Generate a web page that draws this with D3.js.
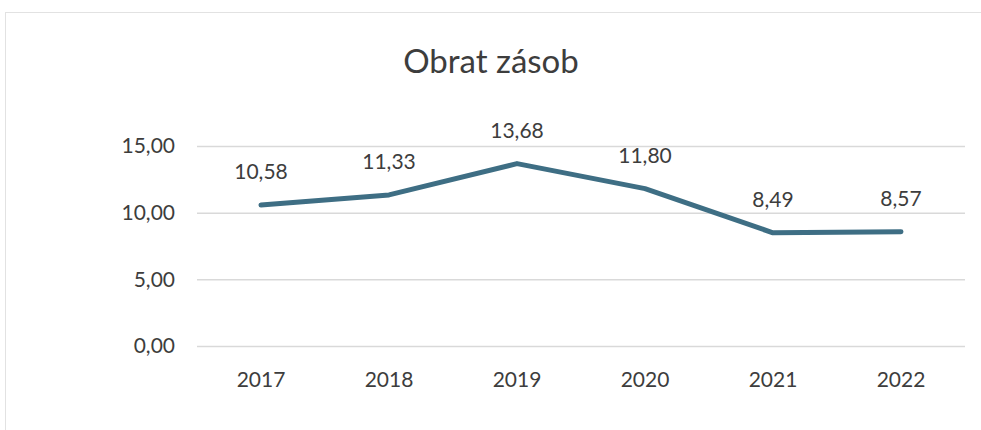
<!DOCTYPE html>
<html>
<head>
<meta charset="utf-8">
<script src="https://cdn.jsdelivr.net/npm/d3@7"></script>
<style>
  body { margin: 0; background: #fff; }
  text { font-family: Lato, "Open Sans", sans-serif; fill: #3d3d3d; }
</style>
</head>
<body>
<div id="chart"></div>
<script>
    var years = ["2017", "2018", "2019", "2020", "2021", "2022"];
    var values = [10.58, 11.33, 13.68, 11.80, 8.49, 8.57];
    var yTicks = [0, 5, 10, 15];

    var W = 981, H = 430;
    var margin = { top: 146, right: 16, bottom: 84, left: 197 },
        width = W - margin.left - margin.right,
        height = H - margin.top - margin.bottom;

    var svg = d3.select("#chart").append("svg")
        .attr("width", W)
        .attr("height", H);

    // faint chart border, as in the scan
    svg.append("rect")
        .attr("x", 5.5).attr("y", 12.5)
        .attr("width", W).attr("height", H)
        .attr("fill", "none")
        .attr("stroke", "#e2e2e2");

    svg.append("text")
        .attr("x", 491).attr("y", 73)
        .attr("text-anchor", "middle")
        .style("font-size", "33px")
        .text("Obrat zásob");

    var g = svg.append("g")
        .attr("transform", "translate(" + margin.left + "," + margin.top + ")");

    var x = d3.scaleBand().domain(years).range([0, width]);
    var y = d3.scaleLinear().domain([0, 15]).range([height, 0]);

    var fmt = function(v) { return d3.format(".2f")(v).replace(".", ","); };

    // gridlines + y labels
    var yAxis = g.append("g")
        .call(d3.axisLeft(y).tickValues(yTicks).tickSize(-width).tickFormat(fmt).tickPadding(22));
    yAxis.select(".domain").remove();
    yAxis.selectAll(".tick line").attr("stroke", "#d9d9d9").attr("stroke-width", 1.5);
    yAxis.selectAll(".tick text").style("font-size", "21px").attr("fill", "#3d3d3d");

    var xAxis = g.append("g")
        .attr("transform", "translate(0," + height + ")")
        .call(d3.axisBottom(x).tickSize(0).tickPadding(26));
    xAxis.select(".domain").remove();
    xAxis.selectAll(".tick text").style("font-size", "21px").attr("fill", "#3d3d3d");

    var line = d3.line()
        .x(function(d, i) { return x(years[i]) + x.bandwidth() / 2; })
        .y(function(d) { return y(d); });

    g.append("path")
        .datum(values)
        .attr("d", line)
        .attr("fill", "none")
        .attr("stroke", "#3e6e84")
        .attr("stroke-width", 5)
        .attr("stroke-linecap", "round")
        .attr("stroke-linejoin", "round");

    g.selectAll(".lbl")
        .data(values)
        .enter().append("text")
        .attr("class", "lbl")
        .attr("x", function(d, i) { return x(years[i]) + x.bandwidth() / 2; })
        .attr("y", function(d) { return y(d) - 26; })
        .attr("text-anchor", "middle")
        .style("font-size", "21px")
        .text(function(d) { return fmt(d); });
</script>
</body>
</html>
